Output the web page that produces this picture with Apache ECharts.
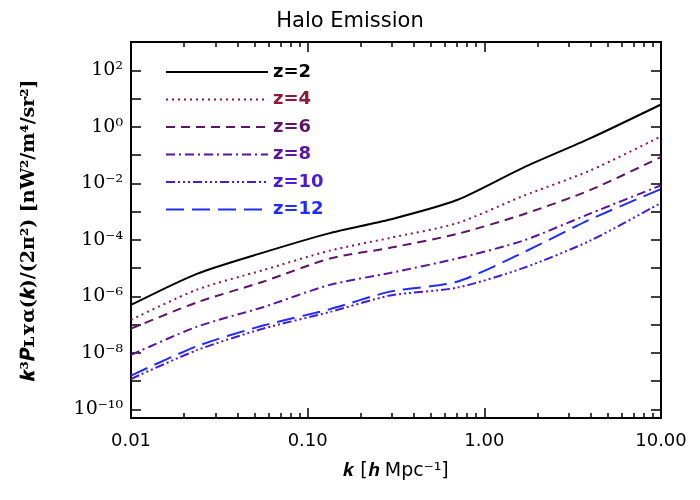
<!DOCTYPE html>
<html>
<head>
  <meta charset="utf-8">
  <script src="https://cdn.jsdelivr.net/npm/echarts@6.0.0/dist/echarts.min.js"></script>
</head>
<body style="margin:0">
  <div id="chart" style="width: 700px; height: 500px;"></div>
  <script>
    // log10 k [h/Mpc]
    var logK = [-2, -1.627, -1.253, -0.874, -0.534, -0.155, 0.218, 0.598, 1];
    // log10 of k^3 P(k)/(2 pi^2)
    var z2  = [-6.30, -5.20, -4.45, -3.76, -3.28, -2.59, -1.45, -0.41, 0.79];
    var z4  = [-6.83, -5.76, -5.07, -4.38, -3.93, -3.41, -2.45, -1.55, -0.34];
    var z6  = [-7.14, -6.21, -5.48, -4.66, -4.28, -3.79, -3.10, -2.24, -1.07];
    var z8  = [-8.07, -7.07, -6.38, -5.59, -5.17, -4.66, -4.03, -3.07, -2.07];
    var z10 = [-8.92, -7.90, -7.14, -6.55, -5.97, -5.69, -5.00, -4.03, -2.69];
    var z12 = [-8.80, -7.76, -7.03, -6.45, -5.83, -5.48, -4.45, -3.28, -2.20];
    var names = ['z=2', 'z=4', 'z=6', 'z=8', 'z=10', 'z=12'];
    var xMajor = [-2, -1, 0, 1];
    var xLabels = ['0.01', '0.10', '1.00', '10.00'];
    var yMajor = [-10, -8, -6, -4, -2, 0, 2];
    var yLabels = ['10⁻¹⁰', '10⁻⁸', '10⁻⁶', '10⁻⁴', '10⁻²', '10⁰', '10²'];
    var yMinor = [-9, -7, -5, -3, -1, 1];

    var colors = ['#000000', '#8e1838', '#5c1464', '#5a14a0', '#4a1ad8', '#1e2cff'];
    var dashes = ['solid', [2, 4], [9, 6], [9, 4, 2, 4], [9, 3, 2, 3, 2, 3, 2, 3], [18, 8]];
    var allY = [z2, z4, z6, z8, z10, z12];

    var xMinor = [];
    [-2, -1, 0].forEach(function (d) {
      for (var m = 2; m <= 9; m++) xMinor.push(d + Math.log10(m));
    });

    var font = 'DejaVu Sans';
    function xAx(pos, ticks, len, labels) {
      return {
        type: 'value', position: pos, min: -2, max: 1,
        axisLine: { show: true, onZero: false, lineStyle: { color: '#000', width: 2 } },
        splitLine: { show: false },
        axisTick: { inside: true, length: len, customValues: ticks, lineStyle: { color: '#000', width: 1.5 } },
        axisLabel: labels ? {
          customValues: xMajor, fontSize: 18, color: '#000', fontFamily: font, margin: 14,
          formatter: function (v) { return xLabels[xMajor.indexOf(Math.round(v))]; }
        } : { show: false }
      };
    }
    function yAx(pos, ticks, len, labels) {
      return {
        type: 'value', position: pos, min: -10.3, max: 3,
        axisLine: { show: true, onZero: false, lineStyle: { color: '#000', width: 2 } },
        splitLine: { show: false },
        axisTick: { inside: true, length: len, customValues: ticks, lineStyle: { color: '#000', width: 1.5 } },
        axisLabel: labels ? {
          customValues: yMajor, fontSize: 19, color: '#000', fontFamily: 'DejaVu Serif', margin: 8,
          formatter: function (v) { return yLabels[yMajor.indexOf(Math.round(v))]; }
        } : { show: false }
      };
    }

    var chart = echarts.init(document.getElementById('chart'));
    var xa = [xAx('bottom', xMajor, 10, true), xAx('bottom', xMinor, 5, false),
              xAx('top', xMajor, 10, false), xAx('top', xMinor, 5, false)];
    xa[0].name = '𝒌 [𝒉 Mpc⁻¹]';
    xa[0].nameLocation = 'middle';
    xa[0].nameGap = 44;
    xa[0].nameTextStyle = { fontSize: 19, color: '#000', fontFamily: font };
    var ya = [yAx('left', yMajor, 10, true), yAx('left', yMinor, 10, false),
              yAx('right', yMajor, 10, false), yAx('right', yMinor, 10, false)];
    ya[0].name = '𝒌³𝑷ʟʏα(𝒌)/(2π²) [nW²/m⁴/sr²]';
    ya[0].nameLocation = 'middle';
    ya[0].nameGap = 92;
    ya[0].nameTextStyle = { fontSize: 19, color: '#000', fontFamily: 'DejaVu Serif', fontWeight: 'bold' };

    chart.setOption({
      animation: false,
      title: { text: 'Halo Emission', left: 'center', top: 6,
        textStyle: { fontSize: 21, fontWeight: 'normal', color: '#000', fontFamily: font } },
      grid: { left: 131, right: 39, top: 42, bottom: 82 },
      legend: {
        orient: 'vertical', left: 160, top: 58, itemWidth: 102, itemHeight: 14, itemGap: 9.5,
        itemStyle: { opacity: 0 },
        data: names.map(function (n, i) {
          return { name: n, textStyle: { color: colors[i] } };
        }),
        textStyle: { fontSize: 18, fontWeight: 'bold', fontFamily: font }
      },
      xAxis: xa,
      yAxis: ya,
      series: names.map(function (n, i) {
        return {
          name: n, type: 'line', showSymbol: false, symbol: 'none', smooth: 0.25,
          xAxisIndex: 0, yAxisIndex: 0,
          lineStyle: { color: colors[i], width: 2, type: dashes[i] },
          itemStyle: { color: colors[i] },
          data: logK.map(function (k, j) { return [k, allY[i][j]]; })
        };
      })
    });
  </script>
</body>
</html>
